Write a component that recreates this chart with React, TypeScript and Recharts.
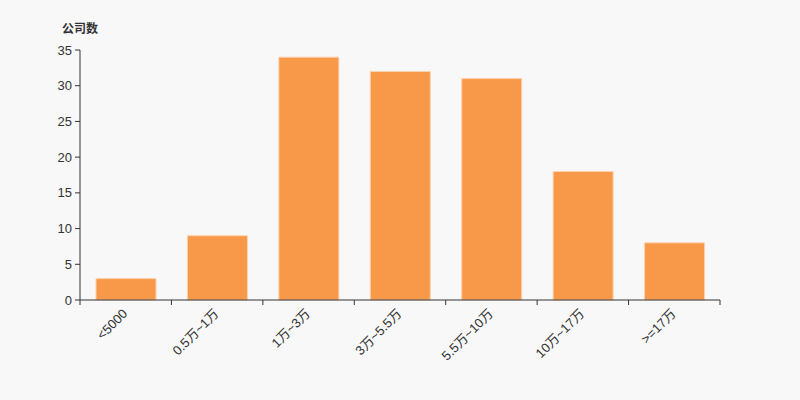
import { BarChart, Bar, XAxis, YAxis } from "recharts";

const categories = ["<5000", "0.5万~1万", "1万~3万", "3万~5.5万", "5.5万~10万", "10万~17万", ">=17万"];
const companyCounts = [3, 9, 34, 32, 31, 18, 8];
const yTicks = [0, 5, 10, 15, 20, 25, 30, 35];

const FONT = '"Liberation Sans", Arial, "Noto Sans CJK SC", sans-serif';

const chartData = categories.map((name, i) => ({ name, count: companyCounts[i] }));

function BoundaryTick(props: any) {
  const { x, y, payload, index, visibleTicksCount, width } = props;
  const half = payload?.offset ?? width / visibleTicksCount / 2;
  const isLast = index === visibleTicksCount - 1;
  return (
    <g>
      <line x1={x - half} y1={y} x2={x - half} y2={y + 5} stroke="#333" />
      {isLast && <line x1={x + half} y1={y} x2={x + half} y2={y + 5} stroke="#333" />}
      <text
        x={x}
        y={y + 12}
        textAnchor="end"
        dominantBaseline="middle"
        transform={`rotate(-45, ${x}, ${y + 12})`}
        fill="#333"
        fontSize={13}
        fontFamily={FONT}
      >
        {payload.value}
      </text>
    </g>
  );
}

export default function App() {
  return (
    <div style={{ position: "absolute", left: 0, top: 0, width: 800, height: 400, background: "#f8f8f8" }}>
      <div
        style={{
          position: "absolute",
          left: 62,
          top: 19,
          fontSize: 12,
          fontWeight: "bold",
          color: "#333",
          fontFamily: FONT,
        }}
      >
        公司数
      </div>
      <BarChart
        width={800}
        height={400}
        data={chartData}
        margin={{ top: 50, right: 80, left: 30, bottom: 40 }}
      >
        <XAxis
          dataKey="name"
          interval={0}
          height={60}
          tickSize={0}
          tickMargin={0}
          tickLine={false}
          axisLine={{ stroke: "#333" }}
          tick={<BoundaryTick />}
        />
        <YAxis
          width={50}
          domain={[0, 35]}
          ticks={yTicks}
          interval={0}
          tickSize={5}
          tickMargin={3}
          axisLine={{ stroke: "#333" }}
          tickLine={{ stroke: "#333" }}
          tick={{ fill: "#333", fontSize: 13, fontFamily: FONT }}
        />
        <Bar
          dataKey="count"
          fill="#f8994a"
          stroke="#fcd2ae"
          strokeWidth={1}
          barSize={60}
          isAnimationActive={false}
        />
      </BarChart>
    </div>
  );
}
